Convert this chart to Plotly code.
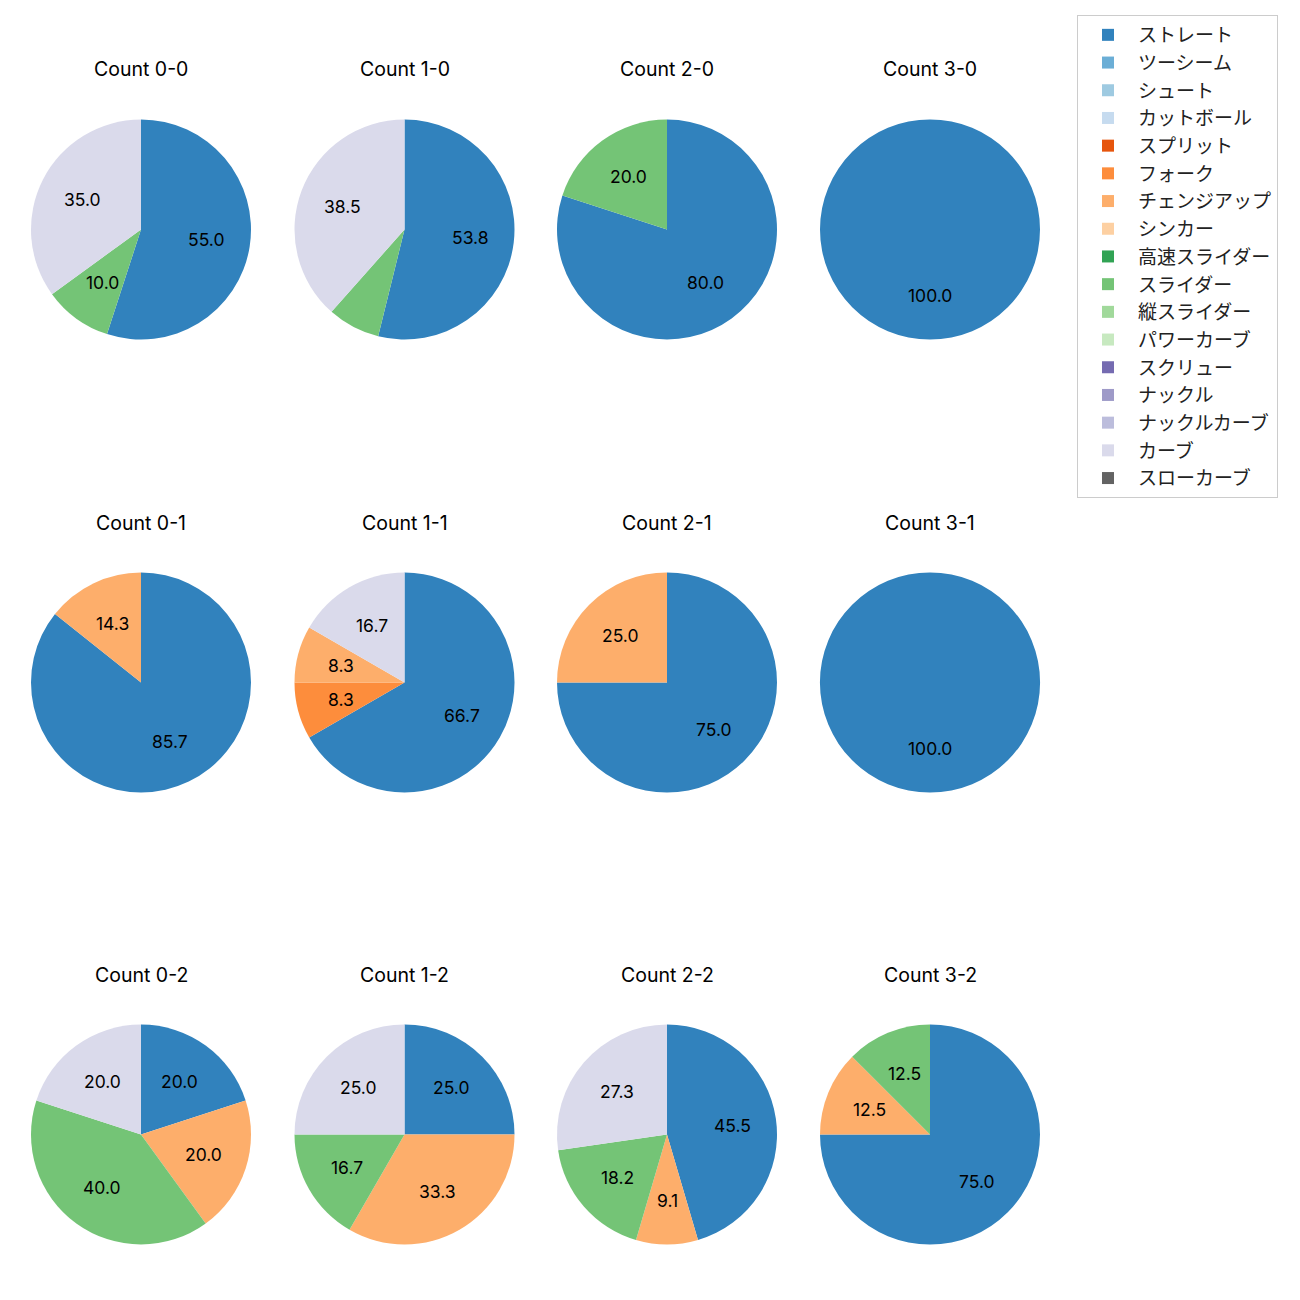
import math
import plotly.graph_objects as go

pitch_types = ["ストレート", "ツーシーム", "シュート", "カットボール", "スプリット", "フォーク",
               "チェンジアップ", "シンカー", "高速スライダー", "スライダー", "縦スライダー",
               "パワーカーブ", "スクリュー", "ナックル", "ナックルカーブ", "カーブ", "スローカーブ"]
colors = ["#3182bd", "#6baed6", "#9ecae1", "#c6dbef", "#e6550d", "#fd8d3c", "#fdae6b",
          "#fdd0a2", "#31a354", "#74c476", "#a1d99b", "#c7e9c0", "#756bb1", "#9e9ac8",
          "#bcbddc", "#dadaeb", "#636363"]

# pitch counts per ball-strike count, in pitch_types order (only non-zero entries listed)
count_labels = ["0-0", "1-0", "2-0", "3-0",
                "0-1", "1-1", "2-1", "3-1",
                "0-2", "1-2", "2-2", "3-2"]
count_0_0 = {"ストレート": 11, "スライダー": 2, "カーブ": 7}
count_1_0 = {"ストレート": 7, "スライダー": 1, "カーブ": 5}
count_2_0 = {"ストレート": 4, "スライダー": 1}
count_3_0 = {"ストレート": 1}
count_0_1 = {"ストレート": 6, "チェンジアップ": 1}
count_1_1 = {"ストレート": 8, "フォーク": 1, "チェンジアップ": 1, "カーブ": 2}
count_2_1 = {"ストレート": 3, "チェンジアップ": 1}
count_3_1 = {"ストレート": 1}
count_0_2 = {"ストレート": 1, "チェンジアップ": 1, "スライダー": 2, "カーブ": 1}
count_1_2 = {"ストレート": 3, "チェンジアップ": 4, "スライダー": 2, "カーブ": 3}
count_2_2 = {"ストレート": 5, "チェンジアップ": 1, "スライダー": 2, "カーブ": 3}
count_3_2 = {"ストレート": 6, "チェンジアップ": 1, "スライダー": 1}
count_data = [count_0_0, count_1_0, count_2_0, count_3_0,
              count_0_1, count_1_1, count_2_1, count_3_1,
              count_0_2, count_1_2, count_2_2, count_3_2]

W = H = 1300
FONT = "Inter, Noto Sans CJK JP"
LFONT = "Noto Sans CJK JP"
col_cx = [141, 404.5, 667, 930]
row_cy = [229.5, 682.5, 1134.5]
R = 110

fig = go.Figure()
annotations = []
for i, (lab, d) in enumerate(zip(count_labels, count_data)):
    cx = col_cx[i % 4]
    cy = row_cy[i // 4]
    vals = [d.get(p, 0) for p in pitch_types]
    total = sum(vals)
    fig.add_trace(go.Pie(
        labels=pitch_types, values=vals, sort=False, direction="clockwise", rotation=0,
        marker=dict(colors=colors, line=dict(width=0)), textinfo="none", hoverinfo="label+percent",
        domain=dict(x=[(cx - R) / W, (cx + R) / W], y=[1 - (cy + R) / H, 1 - (cy - R) / H]),
        showlegend=(i == 0), name=lab,
    ))
    annotations.append(dict(x=cx / W, y=1 - (cy - R - 50) / H, xref="paper", yref="paper",
                            text=f"Count {lab}", showarrow=False,
                            font=dict(family=FONT, size=19.5, color="black"),
                            xanchor="center", yanchor="middle"))
    cum = 0
    for v in vals:
        if v == 0:
            continue
        pct = 100 * v / total
        theta = math.radians(90 - 360 * (cum + v / 2) / total)
        cum += v
        if pct < 8:
            continue
        px = cx + 0.6 * R * math.cos(theta)
        py = cy - 0.6 * R * math.sin(theta)
        annotations.append(dict(x=px / W, y=1 - py / H, xref="paper", yref="paper",
                                text=f"{pct:.1f}", showarrow=False,
                                font=dict(family=FONT, size=17.5, color="black"),
                                xanchor="center", yanchor="middle"))

fig.update_layout(
    width=W, height=H, margin=dict(l=0, r=0, t=0, b=0),
    paper_bgcolor="white", plot_bgcolor="white",
    font=dict(family=FONT, size=16.7, color="#222"),
    annotations=annotations,
    legend=dict(x=1077 / W, y=1 - 15 / H, xanchor="left", yanchor="top",
                bordercolor="#cccccc", borderwidth=1, bgcolor="white",
                itemwidth=50, tracegroupgap=0,
                font=dict(family=LFONT, size=19, color="#222"), traceorder="normal"),
)
fig.write_html("out.html")
